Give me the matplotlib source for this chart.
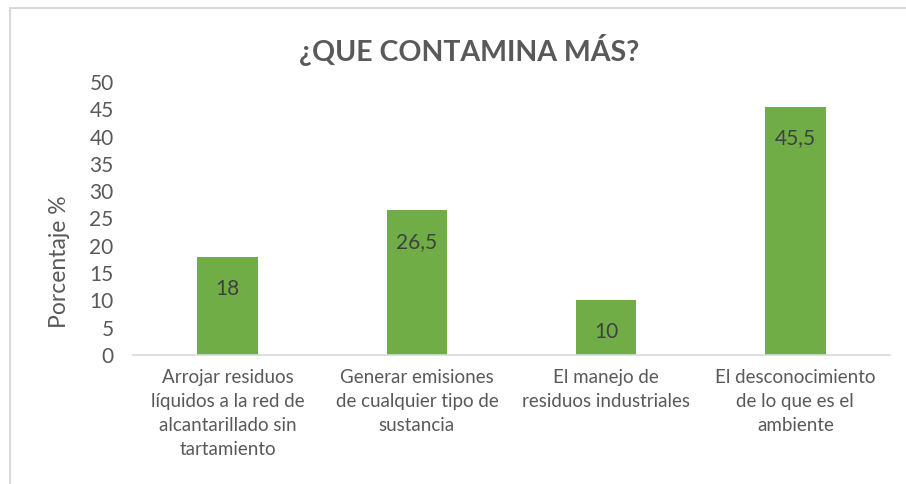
import matplotlib.pyplot as plt
from matplotlib.patches import Rectangle

categorias = [
    "Arrojar residuos\nlíquidos a la red de\nalcantarillado sin\ntartamiento",
    "Generar emisiones\nde cualquier tipo de\nsustancia",
    "El manejo de\nresiduos industriales",
    "El desconocimiento\nde lo que es el\nambiente",
]
porcentajes = [18, 26.5, 10, 45.5]
etiquetas = ["18", "26,5", "10", "45,5"]
ticks_y = [0, 5, 10, 15, 20, 25, 30, 35, 40, 45, 50]

plt.rcParams['font.family'] = ['Lato', 'DejaVu Sans']
gris = "#595959"

fig = plt.figure(figsize=(9.06, 4.84), dpi=100)
W, H = 906, 484

# marco del grafico
fig.patches.append(Rectangle((10 / W, -0.1), 1.2, (H - 8) / H + 0.1,
                             transform=fig.transFigure, fill=False,
                             edgecolor="#d9d9d9", linewidth=1.5))

ax = fig.add_axes([133 / W, (H - 355) / H, (890 - 133) / W, (355 - 82) / H])
x = range(len(categorias))
bars = ax.bar(x, porcentajes, width=0.32, color="#70ad47")

for b, lab in zip(bars, etiquetas):
    ax.annotate(lab, (b.get_x() + b.get_width() / 2, b.get_height()),
                xytext=(0, -23), textcoords="offset points",
                ha="center", va="center", fontsize=15, color="#404040")

ax.set_xlim(-0.5, 3.5)
ax.set_ylim(0, 50)
ax.set_yticks(ticks_y)
ax.set_yticklabels([str(t) for t in ticks_y], fontsize=15, color=gris)
ax.set_xticks(list(x))
ax.set_xticklabels(categorias, fontsize=13.5, color=gris, linespacing=1.5, va="top")
ax.tick_params(axis="both", length=0)
ax.tick_params(axis="x", pad=10)
ax.tick_params(axis="y", pad=14)
for s in ["top", "right", "left"]:
    ax.spines[s].set_visible(False)
ax.spines["bottom"].set_color("#d9d9d9")
ax.spines["bottom"].set_linewidth(1.2)

fig.text(469 / W, 1 - 50 / H, "¿QUE CONTAMINA MÁS?", ha="center", va="center",
         fontsize=20.5, fontweight="bold", color=gris)
fig.text(60 / W, 1 - 262 / H, "Porcentaje %", rotation=90, ha="center",
         va="center", fontsize=16.5, color=gris)

fig.savefig("out.png", dpi=100)
